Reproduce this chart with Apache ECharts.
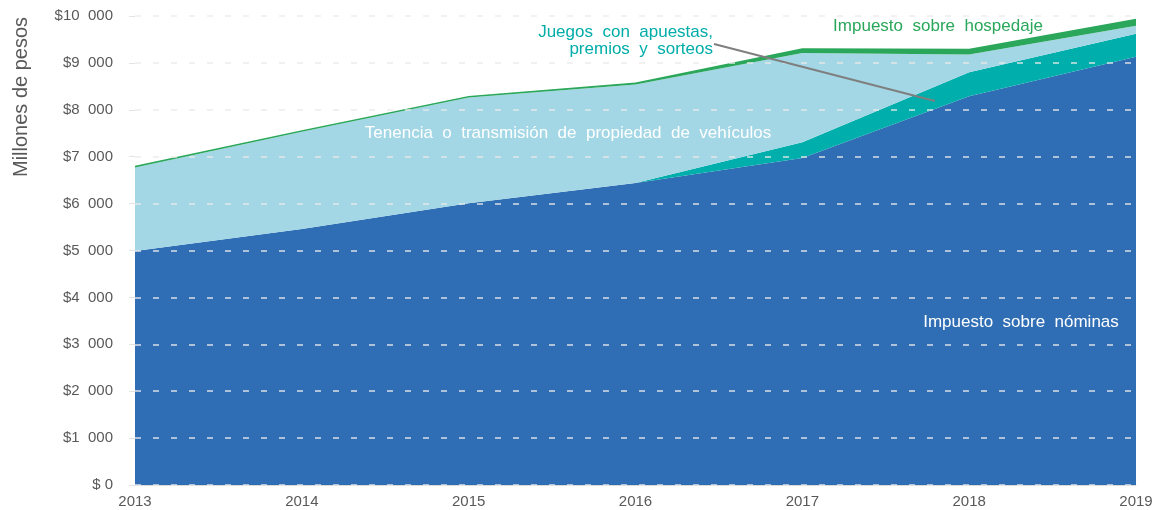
<!DOCTYPE html>
<html>
<head>
<meta charset="utf-8">
<script src="https://cdn.jsdelivr.net/npm/echarts@6/dist/echarts.min.js"></script>
<style>
  html, body { margin: 0; padding: 0; background: #fff; }
  #main { width: 1166px; height: 510px; }
</style>
</head>
<body>
<div id="main"></div>
<script>
var years = ['2013', '2014', '2015', '2016', '2017', '2018', '2019'];
var nominas = [4990, 5460, 6010, 6440, 6970, 8290, 9130];
var juegos = [0, 0, 0, 0, 340, 510, 490];
var tenencia = [1780, 2070, 2250, 2100, 1900, 380, 170];
var hospedaje = [35, 35, 35, 40, 105, 120, 150];
var yTicks = [0, 1000, 2000, 3000, 4000, 5000, 6000, 7000, 8000, 9000, 10000];

var myChart = echarts.init(document.getElementById('main'));
var font = '"Liberation Sans", Arial, sans-serif';

function areaSeries(name, data, color) {
    return {
        name: name,
        type: 'line',
        stack: 'total',
        data: data,
        symbol: 'none',
        lineStyle: { width: 0 },
        areaStyle: { color: color, opacity: 1 },
        itemStyle: { color: color }
    };
}

option = {
    animation: false,
    grid: { left: 135, right: 30, top: 16, bottom: 25, containLabel: false },
    xAxis: {
        type: 'category',
        data: years,
        boundaryGap: false,
        axisLine: { lineStyle: { color: '#d9d9d9' } },
        axisTick: { show: false },
        axisLabel: { color: '#595959', fontSize: 15, fontFamily: font, margin: 9 }
    },
    yAxis: {
        type: 'value',
        min: yTicks[0],
        max: yTicks[yTicks.length - 1],
        interval: 1000,
        z: 5,
        axisLine: { show: false },
        axisTick: { show: true, length: 6, lineStyle: { color: '#e3e3e3' } },
        axisLabel: {
            color: '#595959', fontSize: 15, fontFamily: font, margin: 22,
            formatter: function (v) {
                if (v === 0) return '$ 0';
                var s = String(v);
                return '$' + s.slice(0, s.length - 3) + '  ' + s.slice(-3);
            }
        },
        splitLine: { lineStyle: { color: 'rgba(235,235,235,0.9)', type: [6, 12], width: 1.5 } }
    },
    // etiquetas de las series
    graphic: [
        { type: 'text', x: 11, y: 177, rotation: Math.PI / 2, z: 100,
          style: { text: 'Millones de pesos', fill: '#595959', fontSize: 20, fontFamily: font } },
        { type: 'text', x: 568, y: 133, z: 100,
          style: { text: 'Tenencia  o  transmisión  de  propiedad  de  vehículos', fill: '#fff', fontSize: 17, fontFamily: font, align: 'center', verticalAlign: 'middle' } },
        { type: 'text', x: 1021, y: 322, z: 100,
          style: { text: 'Impuesto  sobre  nóminas', fill: '#fff', fontSize: 17, fontFamily: font, align: 'center', verticalAlign: 'middle' } },
        { type: 'text', x: 713, y: 41, z: 100,
          style: { text: 'Juegos  con  apuestas,\npremios  y  sorteos', fill: '#00ADA9', fontSize: 17, fontFamily: font, align: 'right', verticalAlign: 'middle', lineHeight: 17 } },
        { type: 'text', x: 938, y: 26, z: 100,
          style: { text: 'Impuesto  sobre  hospedaje', fill: '#2AA75A', fontSize: 17, fontFamily: font, align: 'center', verticalAlign: 'middle' } },
        { type: 'line', shape: { x1: 714, y1: 44, x2: 935, y2: 101 }, z: 100,
          style: { stroke: '#7f7f7f', lineWidth: 2 } }
    ],
    series: [
        areaSeries('Impuesto sobre nóminas', nominas, '#2F6DB4'),
        areaSeries('Juegos con apuestas, premios y sorteos', juegos, '#00AEAB'),
        areaSeries('Tenencia o transmisión de propiedad de vehículos', tenencia, '#A3D7E5'),
        areaSeries('Impuesto sobre hospedaje', hospedaje, '#2AA75A')
    ]
};

myChart.setOption(option);
</script>
</body>
</html>
